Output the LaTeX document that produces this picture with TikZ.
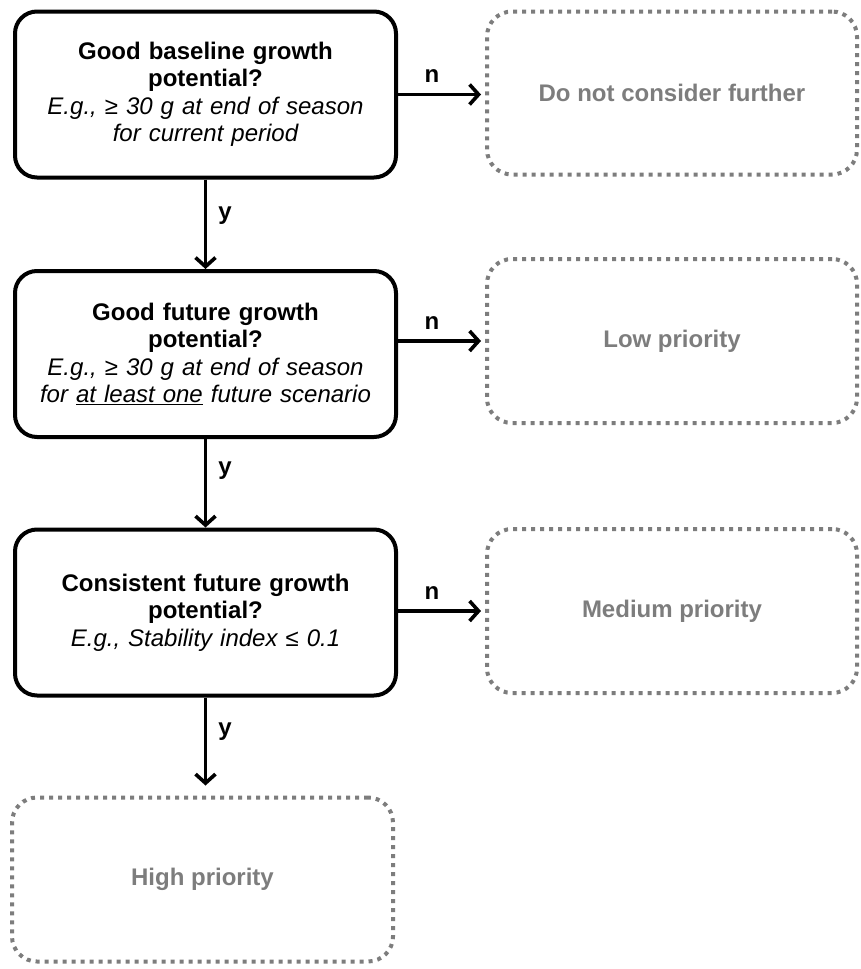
\documentclass[tikz,border=0pt]{standalone}
\usepackage{fontspec}
\setmainfont{Liberation Sans}
\usetikzlibrary{arrows.meta}
\definecolor{dotgray}{RGB}{125,125,125}
\tikzset{
  qbox/.style={draw=black, line width=4pt, rounded corners=22pt, minimum width=381pt,
    minimum height=166pt, text width=372pt, align=center, inner sep=0pt,
    font=\fontsize{24}{27.5}\selectfont},
  outbox/.style={draw=dotgray, line width=4pt, dash pattern=on 4pt off 5pt, rounded corners=25pt,
    minimum width=370pt, minimum height=164pt, inner sep=0pt, text=dotgray,
    font=\fontsize{24}{27.5}\selectfont\bfseries},
  flow/.style={line width=3.6pt, -{Straight Barb[length=9pt,width=20pt]}},
  lab/.style={font=\fontsize{24}{27.5}\selectfont\bfseries, inner sep=0pt}
}
\begin{document}
\begin{tikzpicture}[x=1pt,y=-1pt]
\useasboundingbox[fill=white] (0,0) rectangle (860,969);
% question boxes
\node[qbox] (b1) at (205.5,94.5) {{\bfseries Good baseline growth\\potential?}\\
  {\itshape E.g., ≥ 30 g at end of season\\for current period}};
\node[qbox] (b2) at (205.5,354) {{\bfseries Good future growth\\potential?}\\
  {\itshape E.g., ≥ 30 g at end of season\\for \underline{at least one} future scenario}};
\node[qbox] (b3) at (205.5,612.5) {{\bfseries Consistent future growth\\potential?}\\
  {\itshape E.g., Stability index ≤ 0.1}};
% outcome boxes
\node[outbox, minimum height=163pt] (o1) at (672,93) {Do not consider further};
\node[outbox] (o2) at (672,341) {Low priority};
\node[outbox] (o3) at (672,611) {Medium priority};
\node[outbox, minimum width=381pt] (o4) at (202.5,879.5) {High priority};
% connectors
\draw[flow, shorten >=4pt] (b1.east) -- node[lab, pos=0.39, above=10pt, anchor=south] (n1) {n} (b1.east -| o1.west);
\draw[flow, shorten >=4pt] (b2.east |- o2.west) -- node[lab, pos=0.39, above=10pt, anchor=south] (n2) {n} (o2.west);
\draw[flow, shorten >=4pt] (b3.east |- o3.west) -- node[lab, pos=0.39, above=10pt, anchor=south] (n3) {n} (o3.west);
\draw[flow] (b1.south) -- node[lab, pos=0.4, right=11pt, anchor=west] (y1) {y} (b2.north);
\draw[flow] (b2.south) -- node[lab, pos=0.36, right=11pt, anchor=west] (y2) {y} (b3.north);
\draw[flow, shorten >=10pt] (b3.south) -- node[lab, pos=0.35, right=11pt, anchor=west] (y3) {y} (b3.south |- o4.north);
\end{tikzpicture}
\end{document}
